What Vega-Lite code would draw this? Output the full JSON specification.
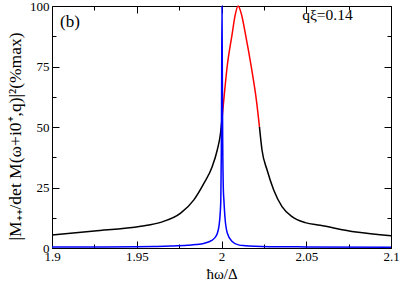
{
  "$schema": "https://vega.github.io/schema/vega-lite/v6.json",
  "width": 339,
  "height": 242,
  "autosize": {"type": "none"},
  "padding": {"left": 52, "top": 6, "right": 8, "bottom": 33},
  "config": {
    "view": {"stroke": null},
    "font": "Liberation Serif",
    "axis": {
      "grid": false,
      "domainColor": "black",
      "tickColor": "black",
      "labelColor": "black",
      "titleColor": "black",
      "labelFont": "Liberation Serif",
      "titleFont": "Liberation Serif",
      "labelFontSize": 13,
      "titleFontWeight": "normal",
      "domainWidth": 1,
      "tickWidth": 1,
      "labelFlush": false,
      "labelOverlap": false
    }
  },
  "datasets": {
    "curves": [
      {"x": 1.9, "y": 5.4, "s": "bl"},
      {"x": 1.925, "y": 7.0, "s": "bl"},
      {"x": 1.9524, "y": 9.0, "s": "bl"},
      {"x": 1.9641, "y": 10.6, "s": "bl"},
      {"x": 1.9759, "y": 14.4, "s": "bl"},
      {"x": 1.9837, "y": 19.9, "s": "bl"},
      {"x": 1.9896, "y": 26.7, "s": "bl"},
      {"x": 1.9945, "y": 33.6, "s": "bl"},
      {"x": 1.9975, "y": 40.5, "s": "bl"},
      {"x": 1.9994, "y": 47.3, "s": "bl"},
      {"x": 2.0004, "y": 54.2, "s": "bl"},
      {"x": 2.0004, "y": 54.2, "s": "red"},
      {"x": 2.0018, "y": 64.5, "s": "red"},
      {"x": 2.0033, "y": 74.7, "s": "red"},
      {"x": 2.0063, "y": 88.5, "s": "red"},
      {"x": 2.008, "y": 96.0, "s": "red"},
      {"x": 2.0098, "y": 100, "s": "red"},
      {"x": 2.0118, "y": 96.5, "s": "red"},
      {"x": 2.0141, "y": 88.5, "s": "red"},
      {"x": 2.0176, "y": 74.7, "s": "red"},
      {"x": 2.0206, "y": 61, "s": "red"},
      {"x": 2.0224, "y": 50, "s": "red"},
      {"x": 2.0224, "y": 50, "s": "br"},
      {"x": 2.0239, "y": 40.5, "s": "br"},
      {"x": 2.0269, "y": 32.2, "s": "br"},
      {"x": 2.0308, "y": 24, "s": "br"},
      {"x": 2.0357, "y": 17.1, "s": "br"},
      {"x": 2.0416, "y": 13, "s": "br"},
      {"x": 2.0494, "y": 10.5, "s": "br"},
      {"x": 2.0582, "y": 9.4, "s": "br"},
      {"x": 2.0794, "y": 6.6, "s": "br"},
      {"x": 2.1, "y": 5.1, "s": "br"},
      {"x": 1.9, "y": 0.4, "s": "blue"},
      {"x": 1.93, "y": 0.45, "s": "blue"},
      {"x": 1.95, "y": 0.55, "s": "blue"},
      {"x": 1.96, "y": 0.65, "s": "blue"},
      {"x": 1.97, "y": 0.8, "s": "blue"},
      {"x": 1.98, "y": 1.1, "s": "blue"},
      {"x": 1.985, "y": 1.4, "s": "blue"},
      {"x": 1.99, "y": 2.0, "s": "blue"},
      {"x": 1.994, "y": 3.0, "s": "blue"},
      {"x": 1.996, "y": 4.2, "s": "blue"},
      {"x": 1.9975, "y": 6.0, "s": "blue"},
      {"x": 1.9985, "y": 9.0, "s": "blue"},
      {"x": 1.9992, "y": 14, "s": "blue"},
      {"x": 1.9996, "y": 20, "s": "blue"},
      {"x": 1.9999, "y": 40, "s": "blue"},
      {"x": 2.0001, "y": 70, "s": "blue"},
      {"x": 2.0003, "y": 100, "s": "blue"},
      {"x": 2.0005, "y": 70, "s": "blue"},
      {"x": 2.0007, "y": 45, "s": "blue"},
      {"x": 2.0011, "y": 24, "s": "blue"},
      {"x": 2.0014, "y": 20, "s": "blue"},
      {"x": 2.002, "y": 13, "s": "blue"},
      {"x": 2.0034, "y": 6.2, "s": "blue"},
      {"x": 2.0063, "y": 2.7, "s": "blue"},
      {"x": 2.01, "y": 1.3, "s": "blue"},
      {"x": 2.014, "y": 0.95, "s": "blue"},
      {"x": 2.02, "y": 0.7, "s": "blue"},
      {"x": 2.03, "y": 0.55, "s": "blue"},
      {"x": 2.05, "y": 0.45, "s": "blue"},
      {"x": 2.1, "y": 0.35, "s": "blue"}
    ]
  },
  "resolve": {"axis": {"x": "independent", "y": "independent"}},
  "layer": [
    {
      "data": {"name": "curves"},
      "mark": {"type": "line", "strokeWidth": 1.5, "interpolate": "monotone"},
      "encoding": {
        "x": {
          "field": "x", "type": "quantitative",
          "scale": {"domain": [1.9, 2.1], "nice": false, "zero": false},
          "axis": {
            "orient": "bottom",
            "values": [1.9, 1.925, 1.95, 1.975, 2, 2.025, 2.05, 2.075, 2.1],
            "tickSize": {"condition": {"test": "abs(datum.value*20 - round(datum.value*20)) < 0.001", "value": -7}, "value": -4},
            "labelExpr": "abs(datum.value*20 - round(datum.value*20)) < 0.001 ? format(datum.value, '~g') : ''",
            "labelPadding": 9,
            "title": "ħω/Δ",
            "titleFontSize": 15,
            "titlePadding": 0
          }
        },
        "y": {
          "field": "y", "type": "quantitative",
          "scale": {"domain": [0, 100], "nice": false},
          "axis": {
            "orient": "left",
            "values": [0, 12.5, 25, 37.5, 50, 62.5, 75, 87.5, 100],
            "tickSize": {"condition": {"test": "datum.value % 25 == 0", "value": -7}, "value": -4},
            "labelExpr": "datum.value % 25 == 0 ? format(datum.value, 'd') : ''",
            "labelPadding": 10,
            "title": "|M₊₊/det M(ω+i0⁺,q)|²(%max)",
            "titleFontSize": 17.5,
            "titlePadding": 5,
            "titleY": 130
          }
        },
        "color": {
          "field": "s", "type": "nominal",
          "scale": {"domain": ["bl", "red", "br", "blue"], "range": ["black", "red", "black", "#0000ff"]},
          "legend": null
        }
      }
    },
    {
      "mark": {"type": "rule", "color": "#888888", "strokeWidth": 1, "strokeDash": [1, 2]},
      "encoding": {
        "y": {
          "datum": 50, "type": "quantitative",
          "axis": {
            "orient": "right",
            "values": [0, 12.5, 25, 37.5, 50, 62.5, 75, 87.5, 100],
            "tickSize": {"condition": {"test": "datum.value % 25 == 0", "value": -7}, "value": -4},
            "labels": false,
            "title": null
          }
        }
      }
    },
    {
      "mark": {"type": "rule", "color": "#888888", "strokeWidth": 1, "strokeDash": [1, 2]},
      "encoding": {
        "x": {
          "datum": 2.0224, "type": "quantitative",
          "axis": {
            "orient": "top",
            "values": [1.9, 1.925, 1.95, 1.975, 2, 2.025, 2.05, 2.075, 2.1],
            "tickSize": {"condition": {"test": "abs(datum.value*20 - round(datum.value*20)) < 0.001", "value": -7}, "value": -4},
            "labels": false,
            "title": null
          }
        }
      }
    },
    {
      "data": {"values": [{"px": 1.9047, "py": 91.5, "label": "(b)"}]},
      "mark": {"type": "text", "font": "Liberation Serif", "fontSize": 17, "align": "left", "baseline": "alphabetic", "color": "black"},
      "encoding": {
        "x": {"field": "px", "type": "quantitative", "axis": null},
        "y": {"field": "py", "type": "quantitative", "axis": null},
        "text": {"field": "label"}
      }
    },
    {
      "data": {"values": [{"px": 2.0625, "py": 94.2, "label": "qξ=0.14"}]},
      "mark": {"type": "text", "font": "Liberation Serif", "fontSize": 15.5, "align": "center", "baseline": "alphabetic", "color": "black"},
      "encoding": {
        "x": {"field": "px", "type": "quantitative", "axis": null},
        "y": {"field": "py", "type": "quantitative", "axis": null},
        "text": {"field": "label"}
      }
    }
  ]
}
